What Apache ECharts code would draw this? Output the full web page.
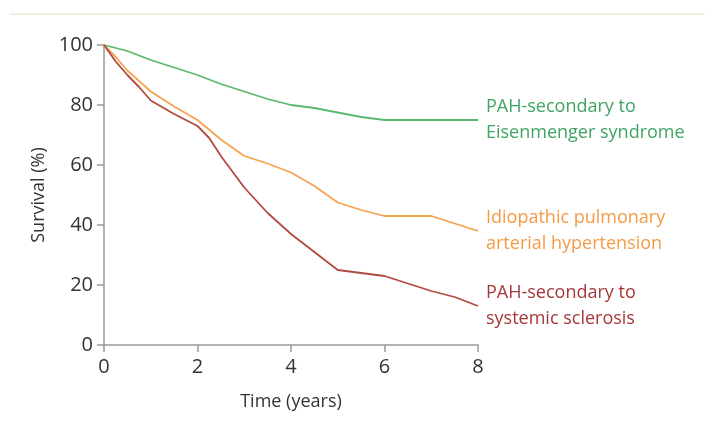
<!DOCTYPE html>
<html><head><meta charset="utf-8">
<script src="https://cdn.jsdelivr.net/npm/echarts@6/dist/echarts.min.js"></script>
<style>html,body{margin:0;padding:0;background:#fff}#c{width:705px;height:432px}</style>
</head><body><div id="c"></div>
<script>
const xTicks = [0, 2, 4, 6, 8];
const yTicks = [0, 20, 40, 60, 80, 100];
const eisenmengerT = [0, 0.5, 1, 1.5, 2, 2.5, 3, 3.5, 4, 4.5, 5, 5.5, 6, 8];
const eisenmengerV = [100, 98, 95, 92.5, 90, 87, 84.5, 82, 80, 79, 77.5, 76, 75, 75];
const idiopathicT = [0, 0.25, 0.5, 1, 1.5, 2, 2.5, 3, 3.5, 4, 4.5, 5, 5.5, 6, 7, 7.5, 8];
const idiopathicV = [100, 96, 91.5, 84.5, 79.5, 75, 68.5, 63, 60.5, 57.5, 53, 47.5, 45, 43, 43, 40.5, 38];
const sclerosisT = [0, 0.25, 0.5, 0.75, 1, 1.5, 2, 2.25, 2.5, 3, 3.5, 4, 4.5, 5, 6, 6.5, 7, 7.5, 8];
const sclerosisV = [100, 94.5, 90, 86, 81.5, 77, 73, 69, 63, 52.5, 44, 37, 31, 25, 23, 20.5, 18, 16, 13];
const seriesNames = ['PAH-secondary to\nEisenmenger syndrome', 'Idiopathic pulmonary\narterial hypertension', 'PAH-secondary to\nsystemic sclerosis'];
const xName = 'Time (years)';
const yName = 'Survival (%)';

const FONT = 'Open Sans';
const pair = (t, v) => t.map((x, i) => [x, v[i]]);
const lineColors = ['#5cb86a', '#f7a24e', '#b34a3f'];
const textColors = ['#3fa466', '#f59a45', '#a5383a'];
const dataSets = [pair(eisenmengerT, eisenmengerV), pair(idiopathicT, idiopathicV), pair(sclerosisT, sclerosisV)];

const chart = echarts.init(document.getElementById('c'));
chart.setOption({
  animation: false,
  grid: { left: 104, right: 227, top: 45, bottom: 87 },
  graphic: [{
    type: 'line', shape: { x1: 10, y1: 14, x2: 705, y2: 14 },
    style: { stroke: '#eef0e2', lineWidth: 2 }
  }],
  xAxis: {
    type: 'value', min: xTicks[0], max: xTicks[xTicks.length - 1], interval: 2,
    name: xName, nameLocation: 'middle', nameGap: 48,
    nameTextStyle: { fontFamily: FONT, fontSize: 18, color: '#333' },
    axisLine: { lineStyle: { color: '#9a9a9a', width: 1.5 } },
    axisTick: { show: true, length: 7, lineStyle: { color: '#9a9a9a', width: 1.5 } },
    axisLabel: { fontFamily: FONT, fontSize: 20, color: '#333', margin: 12 },
    splitLine: { show: false }
  },
  yAxis: {
    type: 'value', min: yTicks[0], max: yTicks[yTicks.length - 1], interval: 20,
    name: yName, nameLocation: 'middle', nameGap: 53, nameRotate: 90,
    nameTextStyle: { fontFamily: FONT, fontSize: 18, color: '#333' },
    axisLine: { show: true, lineStyle: { color: '#9a9a9a', width: 1.5 } },
    axisTick: { show: true, length: 7, lineStyle: { color: '#9a9a9a', width: 1.5 } },
    axisLabel: { fontFamily: FONT, fontSize: 20, color: '#333', margin: 11 },
    splitLine: { show: false }
  },
  series: dataSets.map((d, i) => ({
    type: 'line', name: seriesNames[i], data: d, showSymbol: false, symbol: 'none',
    lineStyle: { color: lineColors[i], width: 1.8 },
    endLabel: {
      show: true, formatter: seriesNames[i], distance: 8,
      fontFamily: FONT, fontSize: 18, lineHeight: 26, color: textColors[i], align: 'left'
    }
  }))
});
</script></body></html>
